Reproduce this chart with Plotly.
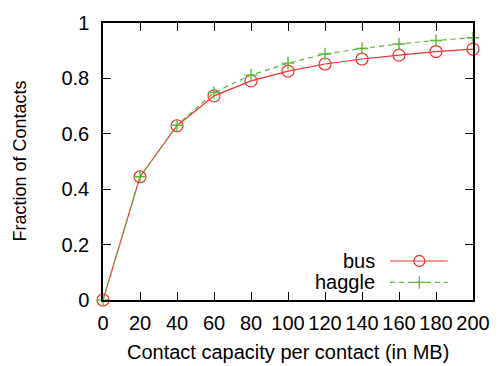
import plotly.graph_objects as go

capacity = [0, 20, 40, 60, 80, 100, 120, 140, 160, 180, 200]
bus = [0.0, 0.445, 0.629, 0.737, 0.791, 0.826, 0.852, 0.870, 0.884, 0.897, 0.906]
haggle = [0.0, 0.445, 0.631, 0.749, 0.812, 0.855, 0.888, 0.908, 0.924, 0.937, 0.947]
x_ticks = [0, 20, 40, 60, 80, 100, 120, 140, 160, 180, 200]
y_ticks = [0, 0.2, 0.4, 0.6, 0.8, 1]
y_tick_labels = ["0", "0.2", "0.4", "0.6", "0.8", "1"]

RED = "#f53030"
GREEN = "#5cb83a"
FONT = "Liberation Sans"
W, H = 502, 366
L, R, T, B = 103, 20, 16, 66
DASH = "5px,4px"

fig = go.Figure()
fig.add_trace(go.Scatter(x=capacity, y=bus, mode="lines+markers", name="bus",
                         line=dict(color=RED, width=1.2),
                         marker=dict(symbol="circle-open", size=12, color=RED, line=dict(width=1.2)),
                         cliponaxis=False, showlegend=False))
fig.add_trace(go.Scatter(x=capacity, y=haggle, mode="lines+markers", name="haggle",
                         line=dict(color=GREEN, width=1.2, dash=DASH),
                         marker=dict(symbol="cross-thin-open", size=9, color=GREEN, line=dict(width=1.4, color=GREEN)),
                         cliponaxis=False, showlegend=False))

pw = W - L - R
ph = H - T - B
def px(xp):
    return (xp - L) / pw
def py(yp):
    return (H - B - yp) / ph

# custom legend (text left of sample, like gnuplot)
legend_items = [("bus", RED, "solid", "circle-open", 11, 260),
                ("haggle", GREEN, DASH, "cross-thin-open", 9, 282)]
for name, col, dash, sym, sz, yc in legend_items:
    fig.add_annotation(x=px(384), y=py(yc), xref="paper", yref="paper", text=name, showarrow=False,
                       xanchor="right", yanchor="middle", font=dict(family=FONT, size=20, color="black"))
    fig.add_shape(type="line", xref="paper", yref="paper", x0=px(397), x1=px(456), y0=py(yc), y1=py(yc),
                  line=dict(color=col, width=1.2, dash=dash))
    fig.add_trace(go.Scatter(x=[px(427)], y=[py(yc)], xaxis="x2", yaxis="y2", mode="markers",
                             marker=dict(symbol=sym, size=sz, color=col, line=dict(width=1.3, color=col)),
                             showlegend=False, hoverinfo="skip"))

# axis titles
fig.add_annotation(x=px(292), y=py(353), xref="paper", yref="paper", text="Contact capacity per contact (in MB)",
                   showarrow=False, xanchor="center", yanchor="middle", font=dict(family=FONT, size=20, color="black"))
fig.add_annotation(x=px(17), y=py(158), xref="paper", yref="paper", text="Fraction of Contacts", textangle=-90,
                   showarrow=False, xanchor="center", yanchor="middle", font=dict(family=FONT, size=18, color="black"))

fig.update_layout(
    width=W, height=H,
    margin=dict(l=L, r=R, t=T, b=B),
    paper_bgcolor="white", plot_bgcolor="white",
    font=dict(family=FONT, size=20, color="black"),
    xaxis=dict(range=[0, 200], tickvals=x_ticks, ticks="inside", ticklen=8, tickwidth=1.2,
               tickcolor="black", showline=True, linecolor="black", linewidth=1.5, mirror="ticks",
               showgrid=False, zeroline=False, tickfont=dict(family=FONT, size=20), ticklabelstandoff=4),
    yaxis=dict(range=[0, 1], tickvals=y_ticks, ticktext=y_tick_labels, ticks="inside", ticklen=8, tickwidth=1.2,
               tickcolor="black", showline=True, linecolor="black", linewidth=1.5, mirror="ticks",
               showgrid=False, zeroline=False, tickfont=dict(family=FONT, size=20), ticklabelstandoff=8),
    xaxis2=dict(range=[0, 1], overlaying="x", visible=False, showgrid=False, zeroline=False),
    yaxis2=dict(range=[0, 1], overlaying="y", visible=False, showgrid=False, zeroline=False),
)

fig.write_html("out.html")
